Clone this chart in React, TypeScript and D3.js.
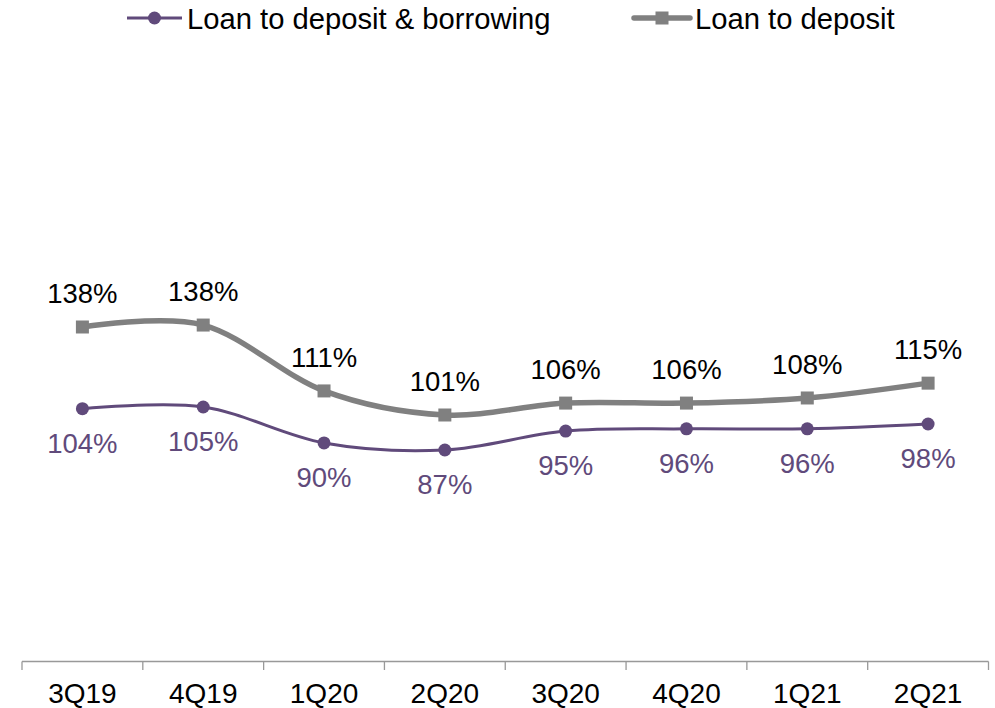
import React from "react";
import * as d3 from "d3";

const categories = ["3Q19", "4Q19", "1Q20", "2Q20", "3Q20", "4Q20", "1Q21", "2Q21"];
const loanToDepositBorrowing = [104.0, 104.7, 89.9, 87.0, 94.8, 95.7, 95.7, 97.7];
const loanToDeposit = [137.6, 138.4, 111.3, 101.4, 106.3, 106.3, 108.4, 114.5];
const labelsLDB = ["104%", "105%", "90%", "87%", "95%", "96%", "96%", "98%"];
const labelsLD = ["138%", "138%", "111%", "101%", "106%", "106%", "108%", "115%"];

const W = 995;
const H = 708;
const PURPLE = "#604a7b";
const GRAY = "#808080";
const FONT = "'Liberation Sans', Arial, sans-serif";

export default function App() {
  const x = d3.scaleBand<string>().domain(categories).range([22, 988.5]);
  const y = d3.scaleLinear().domain([0, 250]).range([661.5, 53.75]);
  const cx = (c: string) => (x(c) as number) + x.bandwidth() / 2;

  const line = d3
    .line<number>()
    .x((_, i) => cx(categories[i]))
    .y((d) => y(d))
    .curve(d3.curveCardinal.tension(0));

  const tickXs = [...categories.map((c) => x(c) as number), 988.5];

  return (
    <svg width={W} height={H} style={{ position: "absolute", left: 0, top: 0, fontFamily: FONT }}>
      <rect width={W} height={H} fill="#fff" />
      {/* axis */}
      <line x1={22} x2={988.5} y1={661.5} y2={661.5} stroke="#999" strokeWidth={1.3} />
      {tickXs.map((t, i) => (
        <line key={i} x1={t} x2={t} y1={661.5} y2={670} stroke="#999" strokeWidth={1.3} />
      ))}
      {categories.map((c) => (
        <text key={c} x={cx(c)} y={703} textAnchor="middle" fontSize={28} fill="#000">
          {c}
        </text>
      ))}

      {/* gray series */}
      <path d={line(loanToDeposit) || ""} fill="none" stroke={GRAY} strokeWidth={5.5} />
      {loanToDeposit.map((v, i) => (
        <rect key={i} x={cx(categories[i]) - 6.5} y={y(v) - 6.5} width={13} height={13} fill={GRAY} />
      ))}
      {loanToDeposit.map((v, i) => (
        <text key={i} x={cx(categories[i])} y={y(v) - 24} textAnchor="middle" fontSize={27.5} fill="#000">
          {labelsLD[i]}
        </text>
      ))}

      {/* purple series */}
      <path d={line(loanToDepositBorrowing) || ""} fill="none" stroke={PURPLE} strokeWidth={3} />
      {loanToDepositBorrowing.map((v, i) => (
        <circle key={i} cx={cx(categories[i])} cy={y(v)} r={6.5} fill={PURPLE} />
      ))}
      {loanToDepositBorrowing.map((v, i) => (
        <text key={i} x={cx(categories[i])} y={y(v) + 44} textAnchor="middle" fontSize={27.5} fill={PURPLE}>
          {labelsLDB[i]}
        </text>
      ))}

      {/* legend */}
      <line x1={127} x2={182} y1={18} y2={18} stroke={PURPLE} strokeWidth={3} />
      <circle cx={154.5} cy={18} r={6.5} fill={PURPLE} />
      <text x={187} y={28.5} fontSize={29.2} fill="#000">
        Loan to deposit &amp; borrowing
      </text>
      <line x1={634} x2={690} y1={18} y2={18} stroke={GRAY} strokeWidth={5.5} strokeLinecap="round" />
      <rect x={655.5} y={11.5} width={13} height={13} fill={GRAY} />
      <text x={695} y={28.5} fontSize={29.2} fill="#000">
        Loan to deposit
      </text>
    </svg>
  );
}
